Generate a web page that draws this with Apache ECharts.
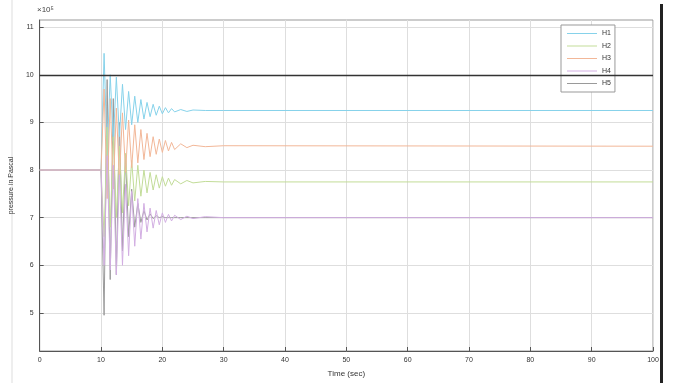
<!DOCTYPE html>
<html>
<head>
<meta charset="utf-8">
<script src="https://cdn.jsdelivr.net/npm/echarts@6/dist/echarts.min.js"></script>
<style>
  html, body { margin: 0; padding: 0; background: #fff; }
  #chart { width: 675px; height: 383px; }
</style>
</head>
<body>
<div id="chart"></div>
<script>
// 时间点 (s)
const times = [0, 10, 10.5, 11, 11.5, 12, 12.5, 13, 13.5, 14, 14.5, 15, 15.5, 16, 16.5, 17,
    17.5, 18, 18.5, 19, 19.5, 20, 20.5, 21, 21.5, 22, 23, 24, 25, 27, 30, 100];

// 各测点压力 (x10^5 Pa)
const h1 = [8, 8, 10.45, 8.3, 10.0, 8.6, 9.95, 8.7, 9.8, 8.85, 9.65, 8.95, 9.55, 9.0, 9.48, 9.07,
    9.42, 9.12, 9.38, 9.15, 9.34, 9.18, 9.31, 9.2, 9.29, 9.22, 9.27, 9.23, 9.26, 9.25, 9.25, 9.25];
const h2 = [8, 8, 6.6, 8.9, 6.8, 8.7, 7.0, 8.5, 7.1, 8.35, 7.25, 8.2, 7.35, 8.1, 7.45, 8.0,
    7.52, 7.95, 7.58, 7.9, 7.62, 7.86, 7.66, 7.83, 7.68, 7.8, 7.71, 7.78, 7.73, 7.76, 7.75, 7.75];
const h3 = [8, 8, 9.7, 7.4, 9.5, 7.6, 9.3, 7.8, 9.2, 7.95, 9.05, 8.05, 8.95, 8.15, 8.85, 8.22,
    8.77, 8.28, 8.7, 8.33, 8.65, 8.37, 8.62, 8.4, 8.58, 8.43, 8.55, 8.47, 8.52, 8.49, 8.51, 8.5];
const h4 = [8, 8, 6.0, 8.3, 5.9, 8.1, 5.8, 7.9, 6.0, 7.7, 6.2, 7.55, 6.4, 7.4, 6.55, 7.3,
    6.7, 7.2, 6.78, 7.15, 6.85, 7.1, 6.9, 7.07, 6.93, 7.05, 6.96, 7.03, 6.98, 7.02, 7.0, 7.0];
const h5 = [8, 8, 4.95, 9.9, 5.7, 9.5, 5.8, 9.0, 6.3, 8.3, 6.6, 7.6, 6.8, 7.3, 6.9, 7.15,
    6.95, 7.08, 6.98, 7.04, 7.0, 7.02, 7.0, 7.0, 7.0, 7.0, 7.0, 7.0, 7.0, 7.0, 7.0, 7.0];

// 参考线
const refLevel = 10;

const seriesNames = ['H1', 'H2', 'H3', 'H4', 'H5'];
const seriesValues = [h1, h2, h3, h4, h5];
const seriesColors = ['#86d2ea', '#c2dc98', '#f2b798', '#d2aee2', '#9a9a9a'];

const yTicks = [5, 6, 7, 8, 9, 10, 11];

const chart = echarts.init(document.getElementById('chart'));

const series = seriesValues.map((vals, i) => ({
    name: seriesNames[i],
    type: 'line',
    symbol: 'none',
    z: i === 4 ? 1 : 2,
    lineStyle: { width: 1, color: seriesColors[i] },
    itemStyle: { color: seriesColors[i] },
    data: times.map((t, k) => [t, vals[k]])
}));

// 10 处黑色水平线
series[4].markLine = {
    silent: true,
    symbol: 'none',
    label: { show: false },
    lineStyle: { color: '#333', width: 1.3, type: 'solid' },
    data: [{ yAxis: refLevel }]
};

const option = {
    backgroundColor: '#fff',
    animation: false,
    textStyle: { fontFamily: 'Liberation Sans' },
    grid: {
        left: 36, right: 22, top: 20, bottom: 30,
        show: true, borderColor: '#999', borderWidth: 1
    },
    legend: {
        orient: 'vertical',
        left: 561, top: 25,
        padding: [4, 4, 4, 6],
        icon: 'rect',
        itemWidth: 30, itemHeight: 1, itemGap: 3.5,
        borderColor: '#999', borderWidth: 1,
        backgroundColor: '#fff',
        textStyle: { fontSize: 7, color: '#333', lineHeight: 9 },
        data: seriesNames
    },
    xAxis: {
        type: 'value',
        min: 0, max: 100, interval: 10,
        name: 'Time (sec)',
        nameLocation: 'middle',
        nameGap: 19,
        nameTextStyle: { fontSize: 8, color: '#333' },
        axisLine: { lineStyle: { color: '#555' } },
        axisTick: { inside: true, length: 4, lineStyle: { color: '#555' } },
        axisLabel: { fontSize: 7, color: '#333', margin: 6 },
        splitLine: { lineStyle: { color: '#dedede' } }
    },
    yAxis: {
        type: 'value',
        min: 4.2, max: 11.15,
        name: 'pressure in Pascal',
        nameLocation: 'middle',
        nameGap: 8,
        nameTextStyle: { fontSize: 7, color: '#333' },
        axisLine: { show: true, lineStyle: { color: '#555' } },
        axisTick: { show: true, inside: true, length: 4, customValues: yTicks, lineStyle: { color: '#555' } },
        axisLabel: { fontSize: 7, color: '#333', margin: 6, customValues: yTicks },
        splitLine: { lineStyle: { color: '#dedede' } }
    },
    graphic: [
        { type: 'text', left: 37, top: 6, style: { text: '×10⁵', fontSize: 8, fill: '#444', fontFamily: 'Liberation Sans' } },
        { type: 'rect', shape: { x: 660, y: 4, width: 3, height: 379 }, style: { fill: '#222' } },
        { type: 'line', shape: { x1: 12, y1: 0, x2: 12, y2: 383 }, style: { stroke: '#ddd', lineWidth: 1 } }
    ],
    series: series
};

chart.setOption(option);
</script>
</body>
</html>
